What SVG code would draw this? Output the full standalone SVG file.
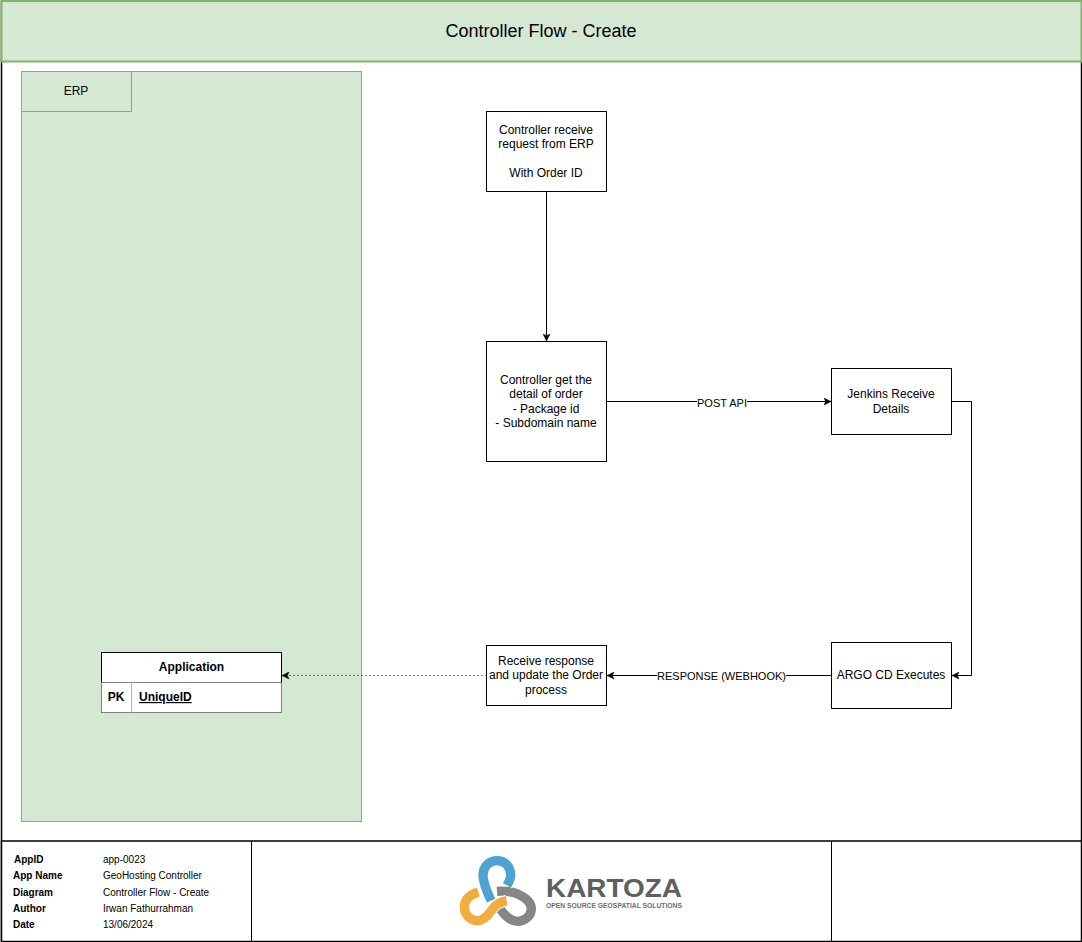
<svg xmlns="http://www.w3.org/2000/svg" width="1082" height="942" viewBox="0 0 1082 942">
<style>
text{font-family:"Liberation Sans",Arial,sans-serif;font-size:12px;fill:#000;text-anchor:middle}
.box{fill:#fff;stroke:#000;stroke-width:1}
.green{fill:#d5e8d4;stroke:#82b366;stroke-width:1}
.line{fill:none;stroke:#000;stroke-width:1}
.meta text{font-size:10px;text-anchor:start}
.meta .k{font-weight:bold}
.lbl{font-size:11px}
.lbg{fill:#fff}
</style>
<defs>
<marker id="arrow" markerUnits="userSpaceOnUse" viewBox="0 0 8 8" refX="7.500" refY="4" markerWidth="8" markerHeight="8" orient="auto"><path d="M0.500 0.500 L7.500 4 L0.500 7.500 L2.200 4 Z" fill="#000" stroke="#000" stroke-width="0.5"/></marker>
</defs>
<rect width="1082" height="942" fill="#fff"/>
<g id="frame">
<rect x="1.500" y="1.500" width="1080" height="940" fill="none" stroke="#000" stroke-width="1.500"/>
</g>
<g id="title">
<rect x="1.500" y="1" width="1080" height="60.500" fill="#d5e8d4" stroke="#82b366" stroke-width="2"/>
<text x="541" y="37" style="font-size:18px">Controller Flow - Create</text>
</g>
<g id="erp">
<rect class="green" x="21.500" y="71.500" width="340" height="750"/>
<rect class="green" x="21.500" y="71.500" width="110" height="40"/>
<text x="76" y="95">ERP</text>
</g>
<g id="connectors">
<path class="line" d="M546.500 191.500V341" marker-end="url(#arrow)"/>
<path class="line" d="M606.500 401.500H831" marker-end="url(#arrow)"/>
<path class="line" d="M951.500 401.500H971.500V675.500H952" marker-end="url(#arrow)"/>
<path class="line" d="M831.500 675.500H607" marker-end="url(#arrow)"/>
<path class="line" d="M486.500 675.500H282" stroke-dasharray="1 3" marker-end="url(#arrow)"/>
<rect class="lbg" x="697" y="396" width="50" height="12"/>
<text class="lbl" x="722" y="407">POST API</text>
<rect class="lbg" x="657" y="670" width="129" height="12"/>
<text class="lbl" x="721.500" y="680">RESPONSE (WEBHOOK)</text>
</g>
<g id="n-receive">
<rect class="box" x="486.500" y="111.500" width="120" height="80"/>
<text x="546" y="134">Controller receive</text>
<text x="546" y="148">request from ERP</text>
<text x="546" y="177">With Order ID</text>
</g>
<g id="n-detail">
<rect class="box" x="486.500" y="341.500" width="120" height="120"/>
<text x="546" y="384">Controller get the</text>
<text x="546" y="398">detail of order</text>
<text x="546" y="413">- Package id</text>
<text x="546" y="427">- Subdomain name</text>
</g>
<g id="n-jenkins">
<rect class="box" x="831.500" y="368.500" width="120" height="66"/>
<text x="891" y="398">Jenkins Receive</text>
<text x="891" y="413">Details</text>
</g>
<g id="n-argo">
<rect class="box" x="831.500" y="642.500" width="120" height="66"/>
<text x="891" y="679">ARGO CD Executes</text>
</g>
<g id="n-response">
<rect class="box" x="486.500" y="645.500" width="120" height="60"/>
<text x="546" y="665">Receive response</text>
<text x="546" y="679">and update the Order</text>
<text x="546" y="694">process</text>
</g>
<g id="n-application">
<rect x="101.500" y="652.500" width="180" height="60" fill="#fff" stroke="#000"/>
<path d="M101.500 682.500H281.500V712.500H101.500Z" fill="#fff" stroke="#808080"/>
<path d="M131.500 682.500V712.500" stroke="#b3b3b3" fill="none"/>
<text x="191.500" y="671" font-weight="bold">Application</text>
<text x="116" y="701" font-weight="bold">PK</text>
<text x="139" y="701" font-weight="bold" text-decoration="underline" style="text-anchor:start">UniqueID</text>
</g>
<g id="footer">
<rect x="1.500" y="841" width="1080" height="100.500" fill="#fff" stroke="#000" stroke-width="1.500"/>
<path class="line" d="M251.500 841V941M831.500 841V941"/>
</g>
<g id="meta" class="meta">
<text class="k" x="14" y="863">AppID</text><text x="103" y="863">app-0023</text>
<text class="k" x="13" y="879">App Name</text><text x="103" y="879">GeoHosting Controller</text>
<text class="k" x="13" y="896">Diagram</text><text x="103" y="896">Controller Flow - Create</text>
<text class="k" x="13" y="912">Author</text><text x="103" y="912">Irwan Fathurrahman</text>
<text class="k" x="13" y="928">Date</text><text x="103" y="928">13/06/2024</text>
</g>
<g id="logo">
<g transform="translate(455 850) scale(.3333)" fill="none" stroke-width="28">
<path d="M126 124C150 122 170 124 188 132C214 144 229 158 229 176C229 198 208 214 188 214C166 214 150 198 135 176" stroke="#868686"/>
<path d="M70 126C44 134 28 150 28 172C28 194 46 212 66 212C86 212 100 196 112 178C122 164 134 156 155 152" stroke="#fff" stroke-width="34"/>
<path d="M70 126C44 134 28 150 28 172C28 194 46 212 66 212C86 212 100 196 112 178C122 164 134 156 155 152" stroke="#f0ae42"/>
<path d="M108 152C96 126 84 100 84 76C84 50 102 32 126 32C150 32 167 50 167 74C167 84 163 94 156 106" stroke="#fff" stroke-width="34"/>
<path d="M108 152C96 126 84 100 84 76C84 50 102 32 126 32C150 32 167 50 167 74C167 84 163 94 156 106" stroke="#4fa3d1"/>
</g>
<text x="546" y="897" style="font-size:25px;font-weight:bold;fill:#5f5f5f;text-anchor:start" textLength="136" lengthAdjust="spacingAndGlyphs">KARTOZA</text>
<text x="546" y="908" style="font-size:6.500px;font-weight:bold;fill:#6e6e6e;text-anchor:start" textLength="136" lengthAdjust="spacingAndGlyphs">OPEN SOURCE GEOSPATIAL SOLUTIONS</text>
</g>
</svg>
